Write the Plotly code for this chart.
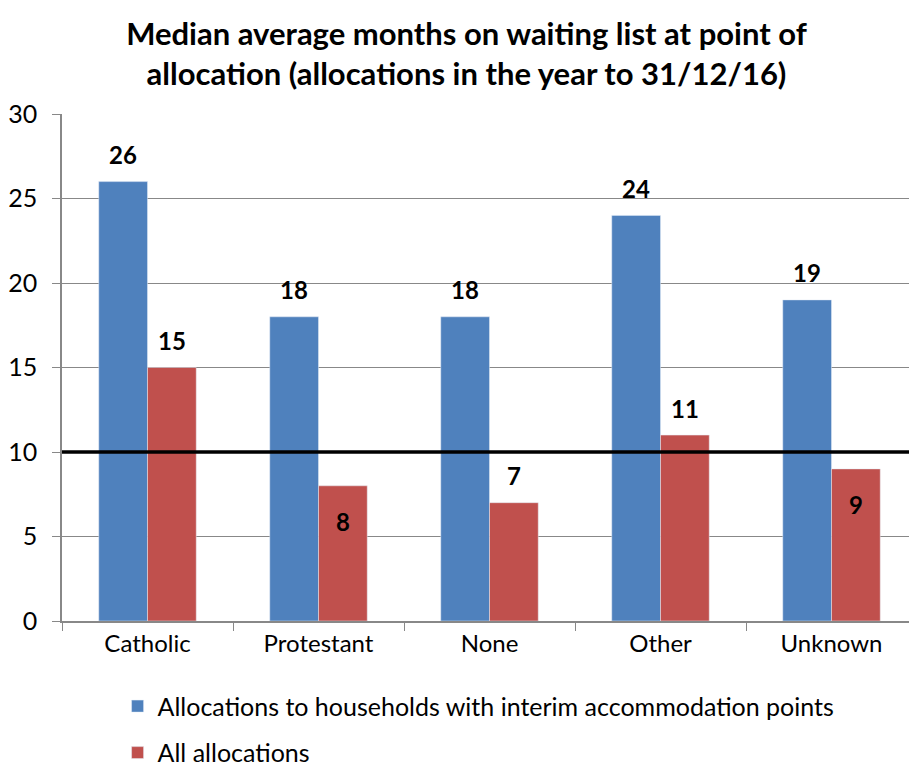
import plotly.graph_objects as go

# data
categories = ["Catholic", "Protestant", "None", "Other", "Unknown"]
interim_points = [26, 18, 18, 24, 19]
all_allocations = [15, 8, 7, 11, 9]
threshold = 10

# label placement for the red series (inside the bar where the line is close)
red_label_inside = [False, True, False, False, True]

FONT = "Lato, Open Sans, sans-serif"
BLUE = "#4F81BD"
RED = "#C0504D"

# page has an 8px body margin, margins below allow for it
W, H = 917, 769
L, R, T, B = 54, 8, 106, 156
BARGAP = 0.43
cat_px = (W - L - R) / len(categories)
bar_px = cat_px * (1 - BARGAP) / 2

trace0 = go.Bar(
    x=categories,
    y=interim_points,
    name="Allocations to households with interim accommodation points",
    legendgroup="a",
    marker=dict(color=BLUE),
)

trace1 = go.Bar(
    x=categories,
    y=all_allocations,
    name="All allocations",
    legendgroup="b",
    marker=dict(color=RED),
)

# data labels
annotations = []
for series, shift, inside in [
    (interim_points, -bar_px / 2, [False] * len(categories)),
    (all_allocations, bar_px / 2, red_label_inside),
]:
    for cat, v, ins in zip(categories, series, inside):
        annotations.append(dict(
            x=cat, y=v, xref="x", yref="y",
            text="<b>%d</b>" % v,
            showarrow=False,
            xshift=shift,
            yshift=-36 if ins else 27,
            font=dict(size=24, color="black", family=FONT),
        ))

layout = go.Layout(
    width=W,
    height=H,
    paper_bgcolor="white",
    plot_bgcolor="white",
    font=dict(family=FONT, size=24, color="black"),
    title=dict(
        text="<b>Median average months on waiting list at point of<br>allocation (allocations in the year to 31/12/16)</b>",
        x=0.5,
        xanchor="center",
        y=1 - 37 / H,
        yanchor="middle",
        font=dict(size=31, family=FONT),
    ),
    barmode="group",
    bargap=BARGAP,
    bargroupgap=0,
    margin=dict(l=L, r=R, t=T, b=B, autoexpand=False),
    xaxis=dict(
        automargin=False,
        showline=True,
        linecolor="#888888",
        linewidth=1.5,
        ticks="outside",
        tickson="boundaries",
        ticklen=8,
        tickcolor="#888888",
        tickfont=dict(size=24),
    ),
    yaxis=dict(
        automargin=False,
        range=[0, 30],
        dtick=5,
        showgrid=True,
        gridcolor="#888888",
        gridwidth=1.2,
        showline=True,
        linecolor="#888888",
        linewidth=1.5,
        ticks="outside",
        ticklen=8,
        tickcolor="#888888",
        ticklabelstandoff=10,
        tickfont=dict(size=25),
        zeroline=False,
    ),
    legend=dict(
        orientation="v",
        x=0.065,
        xanchor="left",
        y=-0.123,
        yanchor="top",
        font=dict(size=25),
        tracegroupgap=11,
        itemwidth=30,
    ),
    annotations=annotations,
    shapes=[
        dict(
            type="line",
            xref="paper",
            x0=0,
            x1=0.994,
            yref="y",
            y0=threshold,
            y1=threshold,
            line=dict(color="black", width=3.5),
            layer="above",
        )
    ],
)

fig = go.Figure(data=[trace0, trace1], layout=layout)
fig.write_html("out.html")
